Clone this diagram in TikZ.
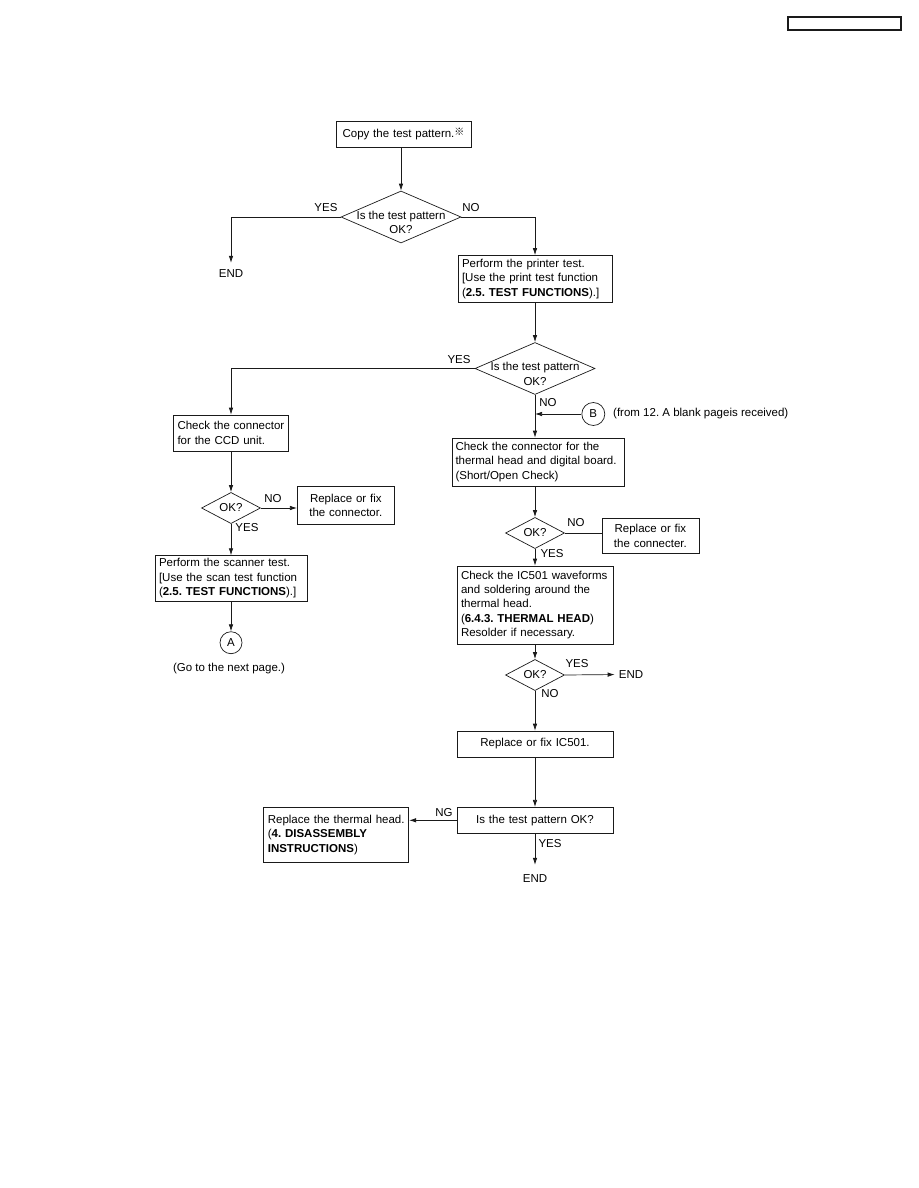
\documentclass[tikz,border=0pt]{standalone}
\usepackage{fontspec}
\setmainfont{Liberation Sans}
\newfontfamily\refmarkfont{Noto Sans CJK JP}
\usetikzlibrary{arrows.meta,shapes.geometric}
\frenchspacing
\definecolor{inkline}{HTML}{1A1A1A}
\tikzset{
  every node/.style={font=\fontsize{11.5}{14.3}\selectfont, text=black},
  box/.style={rectangle, draw=inkline, line width=0.7pt, align=left,
    inner xsep=4pt, inner ysep=3pt},
  cbox/.style={box, align=center},
  decision/.style={diamond, draw=inkline, line width=0.7pt, inner sep=0pt},
  bigdec/.style={decision, minimum width=120pt, minimum height=52pt},
  okdec/.style={decision, minimum width=59pt, minimum height=27pt},
  declabel/.style={align=center, yshift=-5.5pt},
  joint/.style={circle, draw=inkline, line width=0.7pt, minimum size=22pt,
    inner sep=0pt},
  term/.style={inner sep=0pt},
  answer/.style={inner sep=0pt},
  flow/.style={-{Latex[length=7pt,width=4.5pt]}, line width=0.7pt, draw=inkline},
  plain/.style={line width=0.7pt, draw=inkline},
}

\begin{document}
\begin{tikzpicture}[x=1pt,y=-1pt]
\useasboundingbox (0,0) rectangle (918,1188);

% ---- Page header -----------------------------------------------------------
\node[rectangle, draw=inkline, line width=1.2pt, inner sep=0pt,
  minimum width=113pt, minimum height=13pt] (hdr) at (844.5,23.5) {};

% ---- Copy test -------------------------------------------------------------
\node[cbox, text width=127pt, minimum height=26pt] (copy) at (403.5,134)
  {Copy the test pattern.\raisebox{2pt}{\fontsize{10}{10}\refmarkfont ※}};
\node[bigdec, label={[declabel]center:Is the test pattern\\OK?}] (q1) at (401,217) {};
\node[term] (end1) at (231,274) {END};
\node[box, text width=146pt, minimum height=47pt] (printer) at (535,279)
  {Perform the printer test.\\{}[Use the print test function\\
   (\textbf{2.5. TEST FUNCTIONS}).]};

\draw[flow] (q1.north |- copy.south) -- (q1.north);
\draw[flow, shorten >=7pt] (q1.west) -| (end1.north);
\draw[flow] (q1.east) -| (printer.north);

% ---- Printer test ----------------------------------------------------------
\node[bigdec, label={[declabel]center:Is the test pattern\\OK?}] (q2) at (535,368.5) {};
\draw[flow] (printer.south) -- (q2.north);

% ---- Scanner branch --------------------------------------------------------
\node[box, text width=107pt, minimum height=36pt] (ccd) at (231,433)
  {Check the connector\\for the CCD unit.};
\node[okdec] (ok1) at (231,508) {OK?};
\node[cbox, text width=89pt, minimum height=37.5pt] (fixl) at (345.8,505.5)
  {Replace or fix\\the connector.};
\node[box, text width=144pt, minimum height=45pt] (scan) at (231,578.3)
  {Perform the scanner test.\\{}[Use the scan test function\\
   (\textbf{2.5. TEST FUNCTIONS}).]};
\node[joint] (ajoint) at (231,642.7) {A};
\node[term] (goto) at (229,669) {(Go to the next page.)};

\draw[flow] (q2.west) -| (ccd.north);
\draw[flow] (ccd.south) -- (ok1.north);
\draw[flow] (ok1.east) -- (ok1.east -| fixl.west);
\draw[flow] (ok1.south) -- (scan.north);
\draw[flow] (scan.south) -- (ajoint.north);

% ---- Thermal head branch ---------------------------------------------------
\node[joint, minimum size=23pt] (bjoint) at (593.3,414) {B};
\node[term, anchor=west] (fromtext) at (613,414) {(from 12. A blank pageis received)};
\node[box, text width=166pt, inner xsep=3pt, minimum height=48pt] (conn) at (538.5,462)
  {Check the connector for the\\thermal head and digital board.\\(Short/Open Check)};
\node[okdec] (ok2) at (535,533) {OK?};
\node[cbox, text width=89pt, minimum height=35pt] (fixr) at (650.4,535.8)
  {Replace or fix\\the connecter.};
\node[box, text width=148pt, minimum height=78pt] (ic) at (535,605)
  {Check the IC501 waveforms\\and soldering around the\\thermal head.\\
   (\textbf{6.4.3. THERMAL HEAD})\\Resolder if necessary.};
\node[okdec] (ok3) at (535,675) {OK?};
\node[term] (end2) at (631,674.5) {END};
\node[cbox, text width=148pt, minimum height=26pt] (repl) at (535,744)
  {Replace or fix IC501.};
\node[cbox, text width=148pt, minimum height=26pt] (test) at (535,820.3)
  {Is the test pattern OK?};
\node[box, text width=137pt, minimum height=55pt] (thermal) at (336.3,834.8)
  {Replace the thermal head.\\(\textbf{4. DISASSEMBLY}\\\textbf{INSTRUCTIONS})};
\node[term] (end3) at (535,879) {END};

\draw[flow] (q2.south) -- (q2.south |- conn.north);
\draw[flow] (bjoint.west) -- (bjoint.west -| q2.south);
\draw[flow] (conn.south -| ok2.north) -- (ok2.north);
\draw[plain] (ok2.east) -- (ok2.east -| fixr.west);
\draw[flow] (ok2.south) -- (ic.north);
\draw[flow] (ic.south) -- (ok3.north);
\draw[flow, shorten >=4pt] (ok3.east) -- (end2.west);
\draw[flow] (ok3.south) -- (repl.north);
\draw[flow] (repl.south) -- (test.north);
\draw[flow] (test.west) -- (test.west -| thermal.east);
\draw[flow, shorten >=10pt] (test.south) -- (end3.north);

% ---- Answers ---------------------------------------------------------------
\foreach \txt/\px/\py/\nm in {YES/326/208/yes1, NO/471/208/no1,
    YES/459/360/yes2, NO/548/403/no2, NO/273/499/no3, YES/247/528/yes3,
    NO/576/523/no4, YES/552/554/yes4, YES/577/664/yes5, NO/550/694/no5,
    NG/444/813/ng6, YES/550/844/yes6}
  \node[answer] (\nm) at (\px,\py) {\txt};

\end{tikzpicture}
\end{document}
